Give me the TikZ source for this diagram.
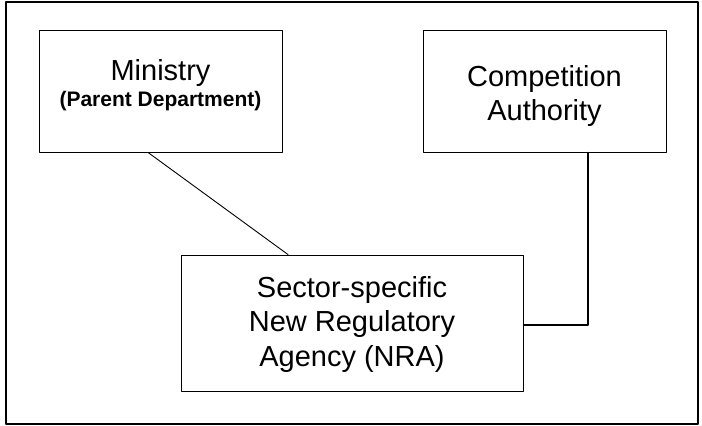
\documentclass[tikz,border=0pt]{standalone}
\usepackage{fontspec}
\setmainfont{Liberation Sans}

\begin{document}
\begin{tikzpicture}[line cap=round,line join=round,x=1pt,y=-1pt,
    box/.style={draw,line width=0.9pt,inner sep=0pt},
    boxtext/.style={align=center,inner sep=0pt,font=\fontsize{29}{34.5}\selectfont}]
      \useasboundingbox (0,0) rectangle (702,426);
      \draw[line width=1.2pt] (6,2) rectangle (698,424);

      % the three bodies
      \node[box,minimum width=243pt,minimum height=122pt] (ministry) at (160.5,91) {};
      \node[box,minimum width=243pt,minimum height=122pt] (competition) at (544.5,91) {};
      \node[box,minimum width=342pt,minimum height=136pt] (nra) at (352,323) {};

      \node[boxtext] (ministrytext) at (160.5,85) {Ministry\\[-8.5pt]{\fontsize{21}{24}\selectfont\bfseries (Parent Department)}};
      \node[boxtext] (competitiontext) at (544.5,96) {Competition\\Authority};
      \node[boxtext] (nratext) at (352,324) {Sector-specific\\New Regulatory\\Agency (NRA)};

      % links
      \draw[line width=0.9pt] ([xshift=-12.5pt]ministry.south) -- ([xshift=-64pt]nra.north);
      \draw[line width=1.4pt] ([yshift=-2pt]nra.east) -| ([xshift=43.5pt]competition.south);
\end{tikzpicture}
\end{document}
